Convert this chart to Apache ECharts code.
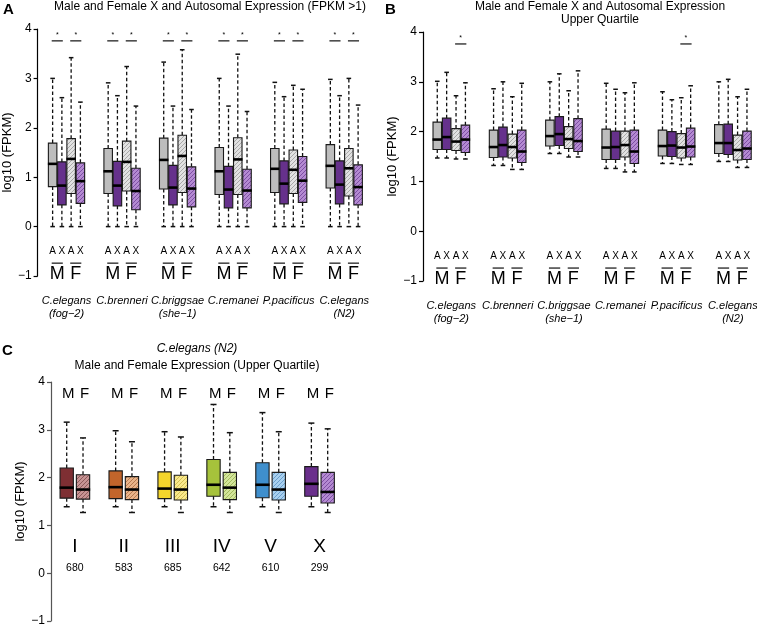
<!DOCTYPE html>
<html>
<head>
<meta charset="utf-8">
<script src="https://cdn.jsdelivr.net/npm/echarts@6/dist/echarts.min.js"></script>
<style>html,body{margin:0;padding:0;background:#fff}#chart{width:757px;height:627px}</style>
</head>
<body>
<div id="chart"></div>
<script>
// ---------- Data ----------
const species = ['C.elegans', 'C.brenneri', 'C.briggsae', 'C.remanei', 'P.pacificus', 'C.elegans'];
const speciesSub = ['(fog−2)', '', '(she−1)', '', '', '(N2)'];
const boxLetters = ['A', 'X', 'A', 'X'];
const sexLetters = ['M', 'F'];
// Panel A: per species order = A(male), X(male), A(female), X(female)
const aHigh = [3.00,2.61,3.42,2.52, 2.91,2.65,3.24,2.44, 3.33,2.44,3.58,2.37, 3.00,2.44,3.49,2.33, 2.92,2.63,2.86,2.78, 2.98,2.65,3.00,2.46];
const aQ3   = [1.69,1.31,1.78,1.29, 1.58,1.32,1.73,1.18, 1.79,1.24,1.85,1.21, 1.60,1.22,1.80,1.16, 1.58,1.33,1.55,1.42, 1.66,1.33,1.58,1.25];
const aMed  = [1.27,0.83,1.37,0.92, 1.12,0.83,1.31,0.72, 1.35,0.79,1.43,0.77, 1.12,0.75,1.36,0.73, 1.17,0.87,1.15,0.93, 1.23,0.85,1.18,0.80];
const aQ1   = [0.81,0.44,0.67,0.47, 0.67,0.42,0.72,0.34, 0.76,0.44,0.69,0.40, 0.65,0.38,0.65,0.38, 0.69,0.46,0.67,0.49, 0.78,0.46,0.62,0.44];
const aLow  = [0,0,0,0, 0,0,0,0, 0,0,0,0, 0,0,0,0, 0,0,0,0, 0,0,0,0];
const aSig  = [[0,0],[0,1],[1,0],[1,1],[2,0],[2,1],[3,0],[3,1],[4,0],[4,1],[5,0],[5,1]]; // [species, sex pair]
// Panel B
const bHigh = [3.01,3.19,2.72,2.98, 2.86,3.00,2.70,2.97, 3.00,3.16,2.82,3.22, 2.97,2.85,2.78,2.98, 2.80,2.64,2.68,2.92, 3.00,3.05,2.70,2.85];
const bQ3   = [2.19,2.27,2.06,2.13, 2.03,2.09,1.95,2.03, 2.23,2.30,2.10,2.26, 2.05,2.01,2.01,2.03, 2.03,2.00,1.96,2.07, 2.14,2.15,1.93,2.01];
const bMed  = [1.84,1.89,1.80,1.84, 1.69,1.73,1.69,1.60, 1.91,1.95,1.85,1.81, 1.68,1.69,1.73,1.60, 1.71,1.72,1.68,1.70, 1.77,1.77,1.63,1.66];
const bQ1   = [1.64,1.64,1.62,1.58, 1.48,1.49,1.47,1.38, 1.71,1.72,1.66,1.60, 1.44,1.44,1.49,1.36, 1.51,1.50,1.47,1.49, 1.56,1.54,1.43,1.44];
const bLow  = [1.47,1.47,1.45,1.45, 1.32,1.32,1.24,1.24, 1.56,1.56,1.49,1.49, 1.26,1.26,1.19,1.19, 1.36,1.36,1.34,1.34, 1.40,1.40,1.28,1.28];
const bSig  = [[0,1],[4,1]];
// Panel C: per chromosome order = M, F
const chromosomes = ['I', 'II', 'III', 'IV', 'V', 'X'];
const geneCounts = ['680', '583', '685', '642', '610', '299'];
const cHigh = [3.16,2.83, 2.98,2.75, 2.96,2.85, 3.53,2.94, 3.36,2.96, 3.14,3.02];
const cQ3   = [2.20,2.06, 2.14,2.02, 2.12,2.05, 2.38,2.11, 2.31,2.11, 2.23,2.11];
const cMed  = [1.79,1.75, 1.80,1.75, 1.77,1.75, 1.85,1.79, 1.85,1.75, 1.87,1.70];
const cQ1   = [1.57,1.55, 1.56,1.54, 1.56,1.53, 1.61,1.54, 1.58,1.53, 1.61,1.47];
const cLow  = [1.39,1.27, 1.39,1.27, 1.39,1.27, 1.39,1.27, 1.39,1.27, 1.39,1.27];
const yTicks = [-1, 0, 1, 2, 3, 4];

// ---------- Styles ----------
const FONT = '"Liberation Sans", Arial, Helvetica, sans-serif';
function hatch(bg, fg) {
  const c = document.createElement('canvas');
  c.width = 4; c.height = 4;
  const g = c.getContext('2d');
  g.fillStyle = bg; g.fillRect(0, 0, 4, 4);
  g.strokeStyle = fg; g.lineWidth = 1;
  g.beginPath();
  g.moveTo(0, 4); g.lineTo(4, 0);
  g.moveTo(-1, 1); g.lineTo(1, -1);
  g.moveTo(3, 5); g.lineTo(5, 3);
  g.stroke();
  return { image: c, repeat: 'repeat' };
}
const abFills = ['#bdbdbd', '#66318c', hatch('#e2e2e2', '#a9a9a9'), hatch('#b48ad2', '#7d4ea3')];
const cMale = ['#7e2f33', '#c2652b', '#f4d52c', '#a6c23b', '#3f8fcd', '#6a2f8c'];
const cFemale = [hatch('#c79494', '#8e5a5a'), hatch('#eab48a', '#b77a4f'), hatch('#fae98c', '#d3bf52'),
                 hatch('#d3e59a', '#a1b95c'), hatch('#a9d0ef', '#6b9fcc'), hatch('#b48ad2', '#7d4ea3')];

// ---------- Builders ----------
function boxSeries(gi, high, q3, med, q1, low, groupSize, slot, widthPx, capHalf, fillFn) {
  const data = high.map((h, i) => [Math.floor(i / groupSize) * slot + (i % groupSize), low[i], q1[i], med[i], q3[i], h, i]);
  return {
    type: 'custom', xAxisIndex: gi, yAxisIndex: gi, data: data, clip: false,
    encode: { x: 0, y: [1, 2, 3, 4, 5] },
    renderItem: function (params, api) {
      const x = api.value(0);
      const pLow = api.coord([x, api.value(1)]);
      const pQ1 = api.coord([x, api.value(2)]);
      const pMed = api.coord([x, api.value(3)]);
      const pQ3 = api.coord([x, api.value(4)]);
      const pHigh = api.coord([x, api.value(5)]);
      const cx = pLow[0];
      const hw = widthPx / 2;
      const dash = { stroke: '#111', lineWidth: 1.3, lineDash: [3.5, 2.5] };
      const cap = { stroke: '#111', lineWidth: 1.5 };
      return {
        type: 'group', children: [
          { type: 'line', shape: { x1: cx, y1: pQ3[1], x2: cx, y2: pHigh[1] }, style: dash },
          { type: 'line', shape: { x1: cx, y1: pQ1[1], x2: cx, y2: pLow[1] }, style: dash },
          { type: 'line', shape: { x1: cx - capHalf, y1: pHigh[1], x2: cx + capHalf, y2: pHigh[1] }, style: cap },
          { type: 'line', shape: { x1: cx - capHalf, y1: pLow[1], x2: cx + capHalf, y2: pLow[1] }, style: cap },
          { type: 'rect', shape: { x: cx - hw, y: pQ3[1], width: widthPx, height: pQ1[1] - pQ3[1] },
            style: { fill: fillFn(api.value(6)), stroke: '#1a1a1a', lineWidth: 1.1 } },
          { type: 'line', shape: { x1: cx - hw - 0.5, y1: pMed[1], x2: cx + hw + 0.5, y2: pMed[1] },
            style: { stroke: '#000', lineWidth: 2.6 } }
        ]
      };
    }
  };
}
function textSeries(gi, items, font, color) {
  return {
    type: 'custom', xAxisIndex: gi, yAxisIndex: gi, clip: false, silent: true,
    data: items.map(d => [d[0], d[1]]),
    encode: { x: 0, y: 1 },
    renderItem: function (params, api) {
      const p = api.coord([api.value(0), api.value(1)]);
      return { type: 'text', x: p[0], y: p[1],
        style: { text: items[params.dataIndex][2], font: font, fill: color || '#000', align: 'center', verticalAlign: 'middle' } };
    }
  };
}
function lineSeries(gi, items, width) {
  return {
    type: 'custom', xAxisIndex: gi, yAxisIndex: gi, clip: false, silent: true,
    data: items, encode: { x: [0, 1], y: 2 },
    renderItem: function (params, api) {
      const a = api.coord([api.value(0), api.value(2)]);
      const b = api.coord([api.value(1), api.value(2)]);
      return { type: 'line', shape: { x1: a[0], y1: a[1], x2: b[0], y2: b[1] }, style: { stroke: '#222', lineWidth: width } };
    }
  };
}
function yAxisCfg(gi, gap, lineColor) {
  return {
    gridIndex: gi, type: 'value', min: yTicks[0], max: yTicks[yTicks.length - 1], interval: 1,
    name: 'log10 (FPKM)', nameLocation: 'middle', nameGap: gap,
    nameTextStyle: { fontFamily: FONT, fontSize: 13, color: '#000' },
    axisLine: { show: true, onZero: false, lineStyle: { color: lineColor, width: 1.2 } },
    axisTick: { show: true, length: 4, lineStyle: { color: lineColor, width: 1.2 } },
    axisLabel: { fontFamily: FONT, fontSize: 12, color: '#000', margin: 6,
      formatter: v => v < 0 ? '−' + Math.abs(v) : String(v) },
    splitLine: { show: false }
  };
}

// ---------- Annotations from arrays ----------
function abAnnotations(gi, sig) {
  const letters = [], mf = [], sp1 = [], sp2 = [], bars = [], stars = [];
  species.forEach((s, g) => {
    boxLetters.forEach((l, k) => letters.push([g * 6 + k, -0.5, l]));
    sexLetters.forEach((l, j) => {
      mf.push([g * 6 + j * 2 + 0.5, -0.97, l]);
      bars.push([g * 6 + j * 2 - 0.1, g * 6 + j * 2 + 1.1, -0.74]);
    });
    sp1.push([g * 6 + 1.5, -1.51, s]);
    if (speciesSub[g]) sp2.push([g * 6 + 1.5, -1.76, speciesSub[g]]);
  });
  const sigBars = sig.map(([g, j]) => [g * 6 + j * 2 - 0.1, g * 6 + j * 2 + 1.1, 3.76]);
  sig.forEach(([g, j]) => stars.push([g * 6 + j * 2 + 0.5, 3.87, '*']));
  return [
    textSeries(gi, letters, '10px ' + FONT),
    textSeries(gi, mf, '18px ' + FONT),
    lineSeries(gi, bars, 1.3),
    textSeries(gi, sp1, 'italic 11px ' + FONT),
    textSeries(gi, sp2, 'italic 11px ' + FONT),
    lineSeries(gi, sigBars, 1.3),
    textSeries(gi, stars, '7px ' + FONT)
  ];
}
const cMF = [], cRoman = [], cCount = [];
chromosomes.forEach((c, g) => {
  sexLetters.forEach((l, j) => cMF.push([g * 3 + j + 0.1, 3.76, l]));
  cRoman.push([g * 3 + 0.5, 0.55, c]);
  cCount.push([g * 3 + 0.5, 0.11, geneCounts[g]]);
});

const chart = echarts.init(document.getElementById('chart'), null, { renderer: 'canvas' });
chart.setOption({
  animation: false,
  backgroundColor: '#fff',
  grid: [
    { left: 32, top: 29, width: 340, height: 247 },
    { left: 423, top: 32, width: 334, height: 249 },
    { left: 51, top: 382, width: 293, height: 242 }
  ],
  xAxis: [
    { gridIndex: 0, type: 'value', min: -1.625, max: 34.5, show: false },
    { gridIndex: 1, type: 'value', min: -1.52, max: 34.07, show: false },
    { gridIndex: 2, type: 'value', min: -0.963, max: 17, show: false }
  ],
  yAxis: [yAxisCfg(0, 17, '#000'), yAxisCfg(1, 21, '#000'), yAxisCfg(2, 23, '#555')],
  graphic: [
    { type: 'text', x: 3, y: 2, style: { text: 'A', font: 'bold 15px ' + FONT, fill: '#000' } },
    { type: 'text', x: 210, y: 7, style: { text: 'Male and Female X and Autosomal Expression (FPKM >1)', font: '12px ' + FONT, fill: '#000', align: 'center', verticalAlign: 'middle' } },
    { type: 'text', x: 385, y: 2, style: { text: 'B', font: 'bold 15px ' + FONT, fill: '#000' } },
    { type: 'text', x: 600, y: 7, style: { text: 'Male and Female X and Autosomal Expression', font: '12px ' + FONT, fill: '#000', align: 'center', verticalAlign: 'middle' } },
    { type: 'text', x: 600, y: 20, style: { text: 'Upper Quartile', font: '12px ' + FONT, fill: '#000', align: 'center', verticalAlign: 'middle' } },
    { type: 'text', x: 2, y: 343, style: { text: 'C', font: 'bold 15px ' + FONT, fill: '#000' } },
    { type: 'text', x: 197, y: 349, style: { text: 'C.elegans (N2)', font: 'italic 12px ' + FONT, fill: '#000', align: 'center', verticalAlign: 'middle' } },
    { type: 'text', x: 197, y: 366, style: { text: 'Male and Female Expression (Upper Quartile)', font: '12px ' + FONT, fill: '#000', align: 'center', verticalAlign: 'middle' } }
  ],
  series: [
    boxSeries(0, aHigh, aQ3, aMed, aQ1, aLow, 4, 6, 8.5, 2.3, i => abFills[i % 4]),
    boxSeries(1, bHigh, bQ3, bMed, bQ1, bLow, 4, 6, 8.5, 2.3, i => abFills[i % 4]),
    boxSeries(2, cHigh, cQ3, cMed, cQ1, cLow, 2, 3, 13.3, 3, i => (i % 2 === 0 ? cMale : cFemale)[Math.floor(i / 2)]),
    ...abAnnotations(0, aSig),
    ...abAnnotations(1, bSig),
    textSeries(2, cMF, '15px ' + FONT),
    textSeries(2, cRoman, '19px ' + FONT),
    textSeries(2, cCount, '10.5px ' + FONT)
  ]
});
</script>
</body>
</html>
